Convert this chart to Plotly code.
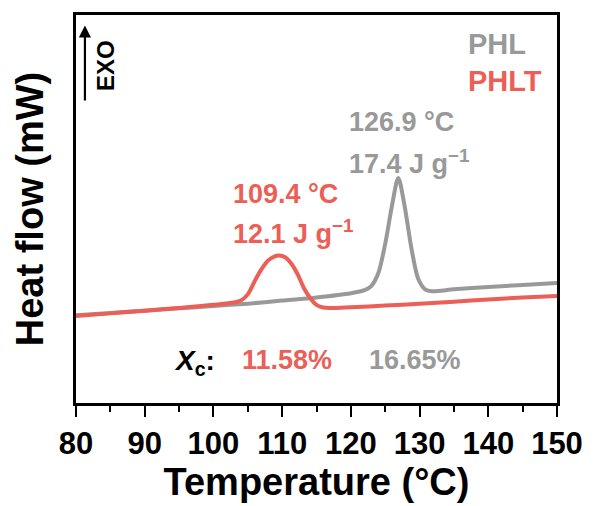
import plotly.graph_objects as go

# DSC cooling scans: temperature (°C) and heat flow (arbitrary offset units, exo up)
phl_temp = [80, 85, 90, 95, 100, 105, 110, 115, 120, 122, 123, 124, 125, 126, 126.9,
            127.8, 128.8, 129.8, 130.8, 131.8, 135, 140, 145, 150]
phl_flow = [22.6, 23.2, 23.8, 24.4, 25.0, 25.6, 26.4, 27.2, 28.3, 29.1, 30.2, 33.5, 41.0,
            51.0, 58.0, 51.0, 40.0, 32.0, 29.3, 28.8, 29.3, 29.9, 30.4, 30.9]

phlt_temp = [80, 85, 90, 95, 100, 103, 104, 105, 106, 107, 108, 109.4, 110.5, 111.5,
             112.3, 113.2, 114.1, 115, 116, 117, 120, 125, 130, 135, 140, 145, 150]
phlt_flow = [22.4, 23.1, 23.8, 24.5, 25.3, 25.9, 26.4, 28.0, 31.4, 34.5, 36.8, 38.0, 37.5,
             35.5, 33.0, 29.5, 27.0, 25.3, 24.6, 24.5, 24.7, 25.1, 25.6, 26.1, 26.7, 27.2, 27.6]

x_ticks = [80, 90, 100, 110, 120, 130, 140, 150]

GREY = "#999999"
RED = "#EB5F57"
FONT = "Liberation Sans, Arial, sans-serif"

fig = go.Figure()
fig.add_trace(go.Scatter(x=phl_temp, y=phl_flow, mode="lines", name="PHL",
                         line=dict(color=GREY, width=4, shape="spline", smoothing=0.8)))
fig.add_trace(go.Scatter(x=phlt_temp, y=phlt_flow, mode="lines", name="PHLT",
                         line=dict(color=RED, width=4, shape="spline", smoothing=0.8)))

def label(text, x, y, color, size=27, xanchor="left", **kw):
    fig.add_annotation(text=text, x=x, y=y, xref="x", yref="y", showarrow=False,
                       xanchor=xanchor, yanchor="middle",
                       font=dict(family=FONT, size=size, color=color), **kw)

# peak annotations
label("<b>126.9 °C</b>", 119.5, 72.4, GREY)
label("<b>17.4 J g<sup>−1</sup></b>", 119.5, 62.0, GREY)
label("<b>109.4 °C</b>", 102.6, 53.8, RED)
label("<b>12.1 J g<sup>−1</sup></b>", 102.6, 44.0, RED)

# crystallinity row
label("<b><i>X</i><sub>c</sub>:</b>", 94.0, 10.4, "black", size=28)
label("<b>11.58%</b>", 103.9, 11.0, RED)
label("<b>16.65%</b>", 122.3, 11.0, GREY)

# series labels
label("<b>PHL</b>", 136.7, 92.6, GREY, size=29)
label("<b>PHLT</b>", 136.7, 82.9, RED, size=29)

# exotherm direction marker
label("<b>EXO</b>", 84.2, 87.1, "black", size=24, xanchor="center", textangle=-90)
fig.add_annotation(x=81.3, y=97.3, ax=81.3, ay=77.6, xref="x", yref="y", axref="x", ayref="y",
                   text="", showarrow=True, arrowhead=2, arrowsize=1.1, arrowwidth=2.2,
                   arrowcolor="black")

fig.update_layout(
    width=595, height=506,
    margin=dict(l=76, r=33, t=14, b=100),
    paper_bgcolor="white", plot_bgcolor="white",
    showlegend=False,
    font=dict(family=FONT, color="black"),
)
fig.update_xaxes(
    range=[80, 150], tickvals=x_ticks, ticktext=[f"<b>{v}</b>" for v in x_ticks],
    ticks="outside", ticklen=11, tickwidth=2, tickcolor="black",
    minor=dict(dtick=5, ticks="outside", ticklen=6, tickwidth=2, tickcolor="black"),
    tickfont=dict(size=31, family=FONT, color="black"),
    showline=True, linewidth=2.5, linecolor="black", mirror=True,
    showgrid=False, zeroline=False,
    title=dict(text="<b>Temperature (°C)</b>", font=dict(size=38, family=FONT), standoff=6),
)
fig.update_yaxes(
    range=[0, 100], showticklabels=False, ticks="",
    showline=True, linewidth=2.5, linecolor="black", mirror=True,
    showgrid=False, zeroline=False,
    title=dict(text="<b>Heat flow (mW)</b>", font=dict(size=38, family=FONT), standoff=18),
)

fig.write_html("out.html")
